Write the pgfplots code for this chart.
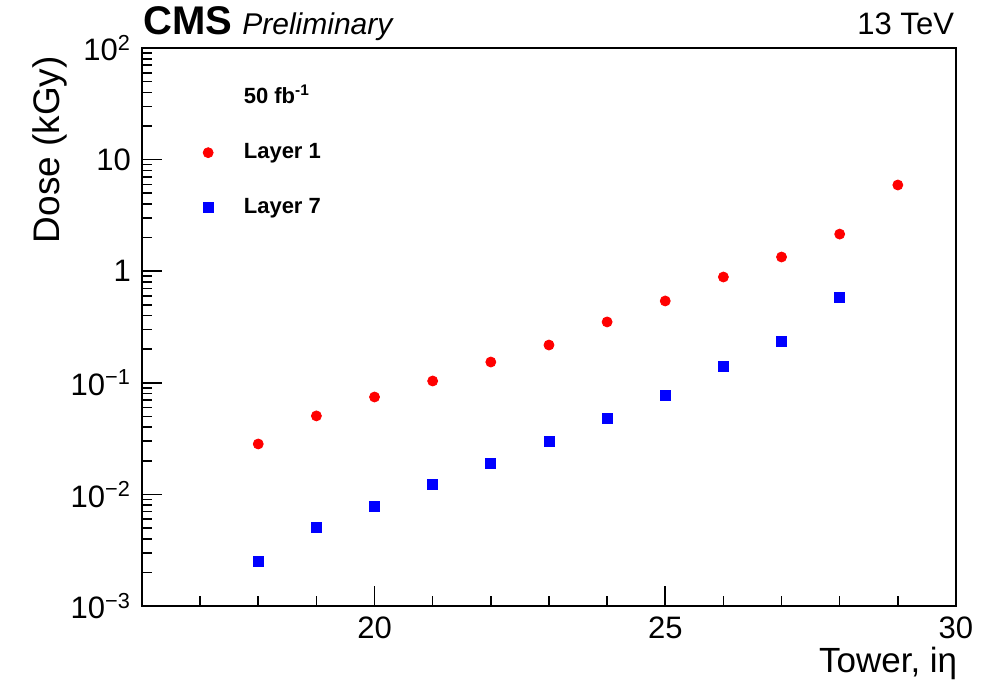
\documentclass[border=0pt]{standalone}
\usepackage{fontspec}
\setmainfont{Liberation Sans}
\usepackage{pgfplots}
\pgfplotsset{compat=1.18}

\begin{document}
\begin{tikzpicture}
\begin{axis}[
  scale only axis, width=407pt, height=279pt,
  xmin=16, xmax=30, ymode=log, ymin=1e-3, ymax=1e2,
  xtick={20,25,30}, minor xtick={17,18,19,21,22,23,24,26,27,28,29},
  ytick={1e-3,1e-2,1e-1,1,10,100},
  yticklabels={10\textsuperscript{−3},10\textsuperscript{−2},10\textsuperscript{−1},1,10,10\textsuperscript{2}},
  minor ytick={0.002,0.003,0.004,0.005,0.006,0.007,0.008,0.009,
               0.02,0.03,0.04,0.05,0.06,0.07,0.08,0.09,
               0.2,0.3,0.4,0.5,0.6,0.7,0.8,0.9,
               2,3,4,5,6,7,8,9,20,30,40,50,60,70,80,90},
  xticklabels={20,25,30},
  tick pos=left, tick align=inside,
  major tick length=10pt, minor tick length=5pt,
  axis line style={line width=1pt}, tick style={line width=0.8pt, black},
  ticklabel style={font=\fontsize{15.5}{18}\selectfont},
  xticklabel style={yshift=-2pt},
  yticklabel style={xshift=-2pt},
  xlabel={Tower, iη}, ylabel={Dose (kGy)},
  xlabel style={font=\fontsize{17.5}{20}\selectfont, inner sep=0pt,
    at={(rel axis cs:1.002,-0.120)}, anchor=base east},
  ylabel style={font=\fontsize{18.5}{21}\selectfont, inner sep=0pt,
    at={(rel axis cs:-0.113,0.986)}, anchor=east},
  clip=false,
  legend cell align=left,
  legend style={at={(rel axis cs:0.052,0.9486)}, anchor=north west, draw=none, fill=none,
    font=\bfseries\fontsize{11}{13}\selectfont, row sep=14.5pt},
  legend image code/.code={\path (0cm,0cm) (0.85cm,0cm);
    \path[mark repeat=1,#1] plot[only marks] coordinates {(0.3cm,0cm)};},
]
\path (rel axis cs:-0.1744,-0.1416) (rel axis cs:1.0504,1.086);
\addlegendimage{empty legend}
\addlegendentry{50 fb\textsuperscript{-1}}
\addplot[only marks, mark=*, mark size=2.5pt, color=red, draw=red, fill=red] coordinates {
 (18,0.0283) (19,0.0505) (20,0.0746) (21,0.1038) (22,0.1535) (23,0.218)
 (24,0.351) (25,0.541) (26,0.887) (27,1.34) (28,2.15) (29,5.92)};
\addlegendentry{Layer 1}
\addplot[only marks, mark=square*, mark size=2.5pt, color=blue, draw=blue, fill=blue] coordinates {
 (18,0.00253) (19,0.00510) (20,0.00787) (21,0.01239) (22,0.0191) (23,0.0301)
 (24,0.0484) (25,0.0778) (26,0.1416) (27,0.237) (28,0.587)};
\addlegendentry{Layer 7}
\node[anchor=base west, inner sep=0pt, font=\bfseries\fontsize{20}{23}\selectfont] at (rel axis cs:0.001,1.0233) {CMS};
\node[anchor=base west, inner sep=0pt, font=\itshape\fontsize{15}{18}\selectfont] at (rel axis cs:0.1229,1.0233) {Preliminary};
\node[anchor=base east, inner sep=0pt, font=\fontsize{15.5}{18}\selectfont] at (rel axis cs:0.998,1.0233) {13 TeV};
\end{axis}
\end{tikzpicture}
\end{document}
